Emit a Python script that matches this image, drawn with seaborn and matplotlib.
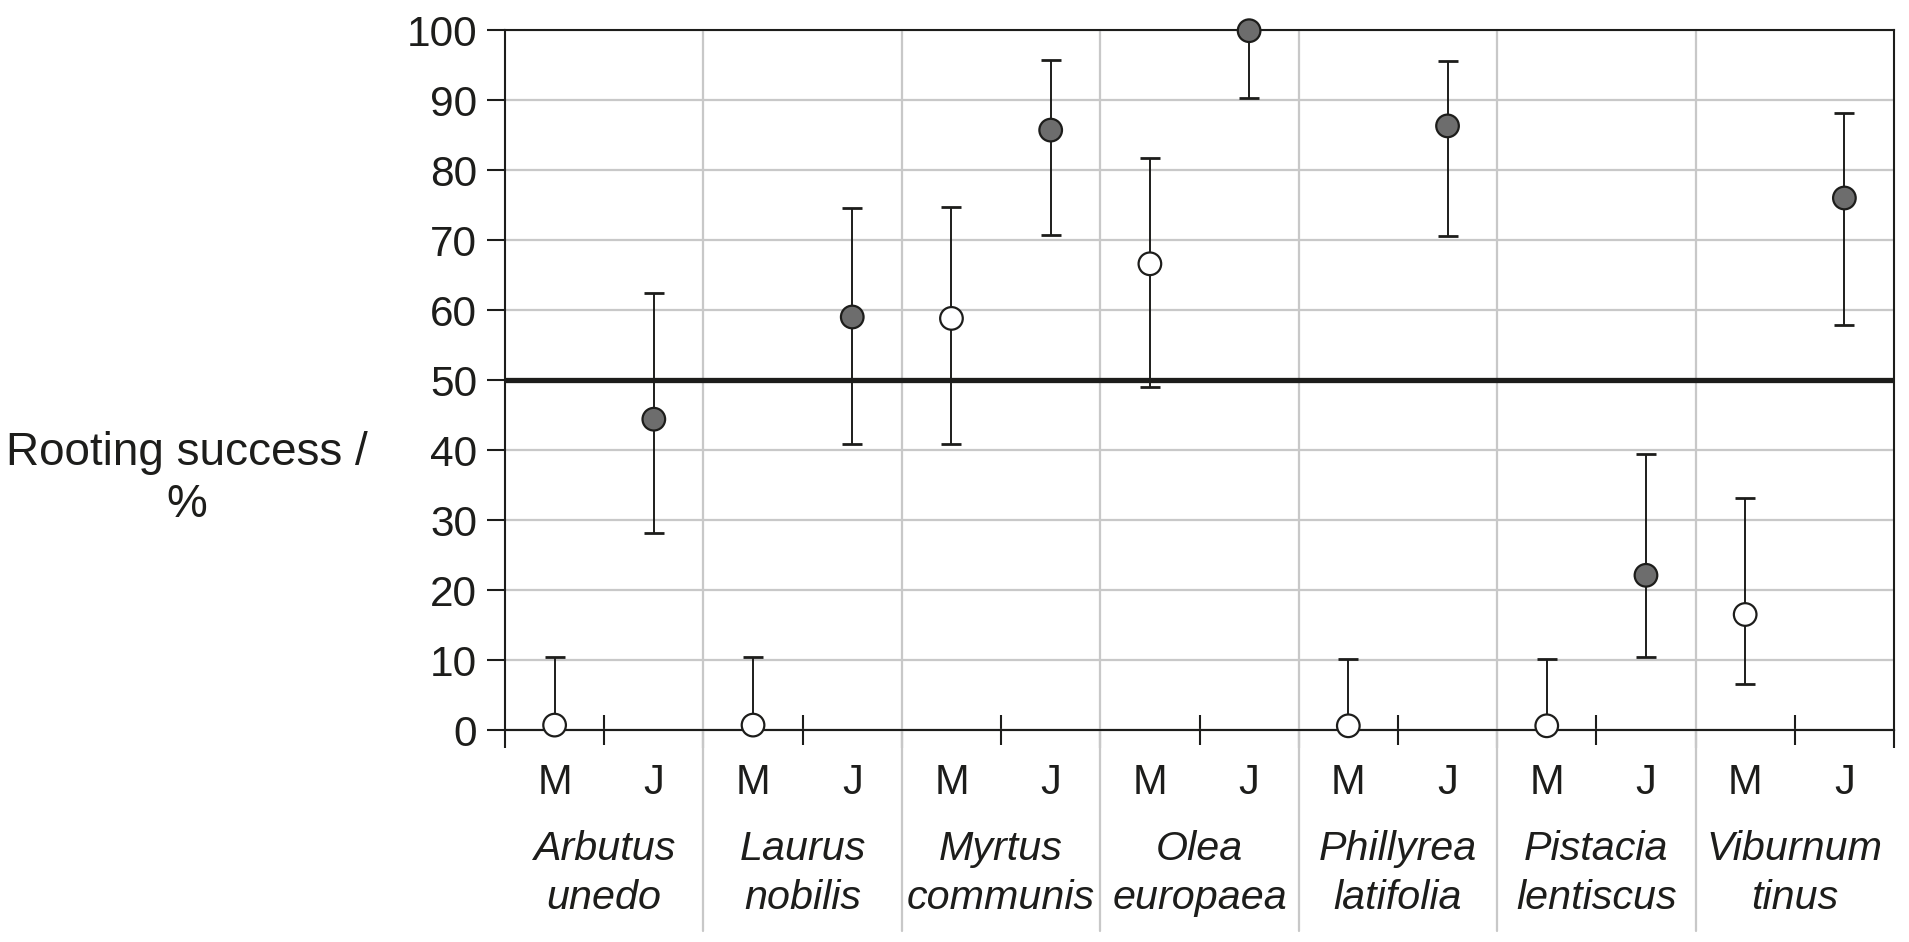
# Rooting success by species and month
# ==============================================================================
import numpy as np
import pandas as pd
import matplotlib
matplotlib.use("Agg")
import matplotlib.pyplot as plt
import seaborn as sns

# Datos
# ==============================================================================
species = ["Arbutus\nunedo", "Laurus\nnobilis", "Myrtus\ncommunis", "Olea\neuropaea",
           "Phillyrea\nlatifolia", "Pistacia\nlentiscus", "Viburnum\ntinus"]
months = ["M", "J"]

rooting_m = [0.7, 0.7, 58.8, 66.6, 0.6, 0.6, 16.5]
lower_m = [0.7, 0.7, 40.9, 49.0, 0.6, 0.6, 6.6]
upper_m = [10.4, 10.4, 74.7, 81.7, 10.2, 10.2, 33.1]

rooting_j = [44.4, 59.0, 85.7, 99.9, 86.3, 22.1, 76.0]
lower_j = [28.2, 40.9, 70.7, 90.3, 70.6, 10.5, 57.8]
upper_j = [62.4, 74.6, 95.7, 99.9, 95.6, 39.4, 88.1]

threshold = 50
y_ticks = list(range(0, 101, 10))

# Tabla larga
# ==============================================================================
rows = []
for i, sp in enumerate(species):
    rows.append(dict(species=sp, month="M", pos=2 * i, value=rooting_m[i],
                     lo=lower_m[i], hi=upper_m[i]))
    rows.append(dict(species=sp, month="J", pos=2 * i + 1, value=rooting_j[i],
                     lo=lower_j[i], hi=upper_j[i]))
datos = pd.DataFrame(rows)

# Estilo
# ==============================================================================
sns.set_style("ticks")
plt.rcParams['font.family'] = ['Liberation Sans', 'DejaVu Sans']
DARK = "#1d1d1b"
GRID = "#c8c8c8"

fig = plt.figure(figsize=(19.09, 9.42), dpi=100)
ax = fig.add_axes([505 / 1909, 1 - 730 / 942, (1894 - 505) / 1909, 700 / 942])

# Barras de error y puntos
# ==============================================================================
ax.errorbar(
    datos["pos"], datos["value"],
    yerr=[datos["value"] - datos["lo"], datos["hi"] - datos["value"]],
    fmt="none", ecolor=DARK, elinewidth=1.4, capsize=7, capthick=2, zorder=3
)
sns.scatterplot(
    data=datos, x="pos", y="value", hue="month",
    palette={"M": "white", "J": "#6d6d6d"},
    s=265, edgecolor=DARK, linewidth=1.6, legend=False,
    zorder=4, clip_on=False, ax=ax
)

ax.axhline(threshold, color=DARK, lw=3.8, zorder=2)

# Ejes
# ==============================================================================
n = len(datos)
ax.set_xlim(-0.5, n - 0.5)
ax.set_ylim(0, 100)
ax.set_xlabel("")
ax.set_ylabel("")
ax.set_axisbelow(True)
ax.yaxis.grid(True, color=GRID, lw=1.6)

for s in ax.spines.values():
    s.set_visible(True)
    s.set_color(DARK)
    s.set_linewidth(1.5)

ax.set_yticks(y_ticks)
ax.tick_params(axis="y", length=13, width=1.5, pad=7, labelsize=30.5,
               colors=DARK, direction="out")

ax.set_xticks(datos["pos"], labels=datos["month"])
ax.set_xticks(np.arange(0.5, n, 2), minor=True)
ax.tick_params(axis="x", which="major", length=0, pad=24, labelsize=30,
               labelcolor=DARK)
ax.tick_params(axis="x", which="minor", direction="inout", length=22,
               width=1.5, color=DARK)

boundaries = np.arange(-0.5, n, 2)
for b in boundaries[1:-1]:
    ax.axvline(b, ymin=-0.287, ymax=1, clip_on=False, color=GRID, lw=1.6, zorder=0.5)

sec = ax.secondary_xaxis("bottom")
sec.set_xticks(np.arange(0.5, n, 2), labels=species)
sec.set_xticks(boundaries, minor=True)
sec.tick_params(which="major", length=0, pad=72, labelsize=29.7, labelcolor=DARK)
sec.tick_params(which="minor", direction="out", length=13, width=1.5, color=DARK)
sec.spines["bottom"].set_color(DARK)
sec.spines["bottom"].set_linewidth(1.5)
for lab in sec.get_xticklabels():
    lab.set_fontstyle("italic")
    lab.set_linespacing(1.36)

fig.text(187 / 1909, 1 - 479 / 942, "Rooting success /\n%", ha="center",
         va="center", fontsize=33, color=DARK, linespacing=1.24)

fig.savefig("out.png", dpi=100)
